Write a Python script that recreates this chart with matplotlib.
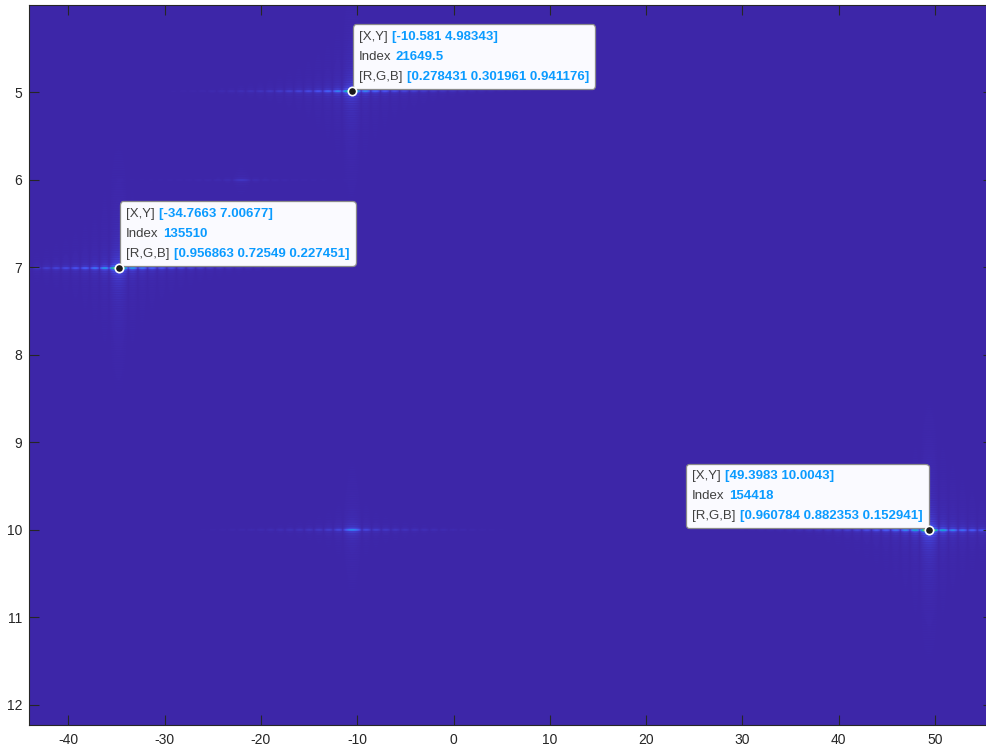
import numpy as np
import matplotlib
matplotlib.use("Agg")
import matplotlib.pyplot as plt
from matplotlib.colors import LinearSegmentedColormap
from matplotlib.offsetbox import TextArea, HPacker, VPacker, AnnotationBbox

plt.rcParams['font.family'] = ['Liberation Sans', 'DejaVu Sans']
plt.rcParams['axes.unicode_minus'] = False

## 目标点: 位置(x, y)和归一化幅度 ##
target_x = [-10.581, -34.7663, 49.3983, -10.5, -22.0]
target_y = [4.98343, 7.00677, 10.0043, 10.0, 6.0]
target_amp = [0.60, 0.74, 0.88, 0.25, 0.05]

## 数据提示框的内容 ##
tip_x = [-10.581, -34.7663, 49.3983]
tip_y = [4.98343, 7.00677, 10.0043]
tip_index = ["21649.5", "135510", "154418"]
tip_rgb = ["0.278431 0.301961 0.941176",
           "0.956863 0.72549 0.227451",
           "0.960784 0.882353 0.152941"]
tip_xy_text = ["-10.581 4.98343", "-34.7663 7.00677", "49.3983 10.0043"]
## 提示框在数据点的哪一侧: 0 右上, 1 左上 ##
tip_side = [0, 0, 1]

x_ticks = list(range(-40, 51, 10))
y_ticks = list(range(5, 13))

## parula 颜色表 ##
parula_pts = [
    (0.2422, 0.1504, 0.6603),
    (0.2810, 0.3228, 0.9579),
    (0.1540, 0.5902, 0.9218),
    (0.0383, 0.6742, 0.7435),
    (0.2586, 0.7817, 0.5705),
    (0.5880, 0.7892, 0.3022),
    (0.9161, 0.7323, 0.2451),
    (0.9956, 0.8525, 0.1793),
    (0.9763, 0.9831, 0.0538),
]
parula = LinearSegmentedColormap.from_list("parula", parula_pts, N=256)

## 成像网格, 每个点目标按加窗的 sinc 响应叠加 ##
xs = np.linspace(-44.2, 56.2, 2000)
ys = np.linspace(3.9, 12.35, 1700)
field = np.zeros((ys.size, xs.size))
for x0, y0, a in zip(target_x, target_y, target_amp):
    dx = xs - x0
    dy = ys - y0
    hx = np.abs(np.sinc(dx / 1.0)) ** 0.6 * np.exp(-(dx / 12.0) ** 2)
    gy = np.abs(np.sinc(dy / 0.02)) ** 0.8 * np.exp(-(dy / 1.5) ** 2)
    field += a * np.outer(gy, hx)
field = np.clip(field, 0, 1)

fig = plt.figure(figsize=(9.87, 7.48), dpi=100)
W, H = 987, 748
ax_left, ax_right = 29.3, 992.9
ax_bottom, ax_top = 748 - 725, 748 - 5
ax = fig.add_axes([ax_left / W, ax_bottom / H,
                   (ax_right - ax_left) / W, (ax_top - ax_bottom) / H])

ax.imshow(field, extent=[xs[0], xs[-1], ys[-1], ys[0]], cmap=parula,
          vmin=0, vmax=1, aspect='auto', interpolation='antialiased')
ax.set_xlim(-44.05, 56.0)
ax.set_ylim(12.23, 4.0)

ax.set_xticks(x_ticks)
ax.set_yticks(y_ticks)
ax.tick_params(direction='in', length=7.2, width=0.8, color='#262626',
               labelsize=10, labelcolor='#262626', top=True, right=True)
ax.tick_params(axis='x', pad=6)
ax.tick_params(axis='y', pad=5)
for sp in ax.spines.values():
    sp.set_color('#262626')
    sp.set_linewidth(0.8)

## 数据提示 ##
gray = '#404040'
blue = '#0A9BFF'
for i in range(len(tip_x)):
    lines = [("[X,Y]", "[" + tip_xy_text[i] + "]"),
             ("Index", tip_index[i]),
             ("[R,G,B]", "[" + tip_rgb[i] + "]")]
    rows = []
    for lab, val in lines:
        t1 = TextArea(lab, textprops=dict(color=gray, fontsize=9.5))
        t2 = TextArea(val, textprops=dict(color=blue, fontsize=9.5,
                                          fontweight='bold'))
        rows.append(HPacker(children=[t1, t2], pad=0, sep=3.0, align='baseline'))
    box = VPacker(children=rows, pad=0, sep=5.8, align='left')
    if tip_side[i] == 0:
        off, align = (5.4, 6.0), (0, 0)
    else:
        off, align = (-5.0, 6.0), (1, 0)
    ab = AnnotationBbox(box, (tip_x[i], tip_y[i]), xybox=off,
                        xycoords='data', boxcoords='offset points',
                        box_alignment=align, frameon=True, pad=0.45,
                        bboxprops=dict(boxstyle='round,pad=0.45,rounding_size=0.25',
                                       fc='#FAFAFF', ec='#8A8A8A', lw=0.9))
    ax.add_artist(ab)
    ax.plot(tip_x[i], tip_y[i], 'o', ms=6, mfc='#1A1A1A', mec='white', mew=1.2,
            zorder=5)

plt.savefig("out.png", dpi=100)
